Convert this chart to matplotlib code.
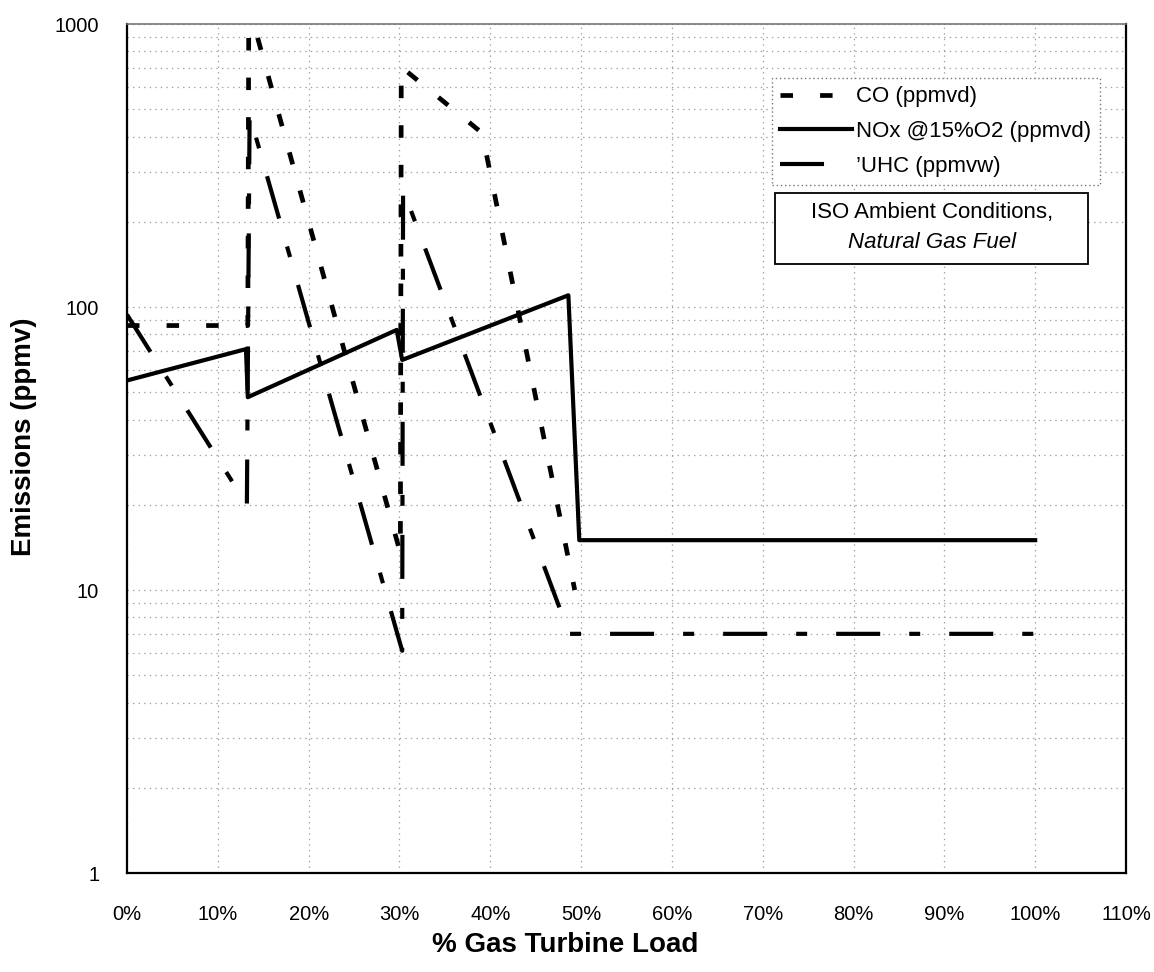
import matplotlib
matplotlib.use("Agg")
import matplotlib.pyplot as plt
from matplotlib.patches import Rectangle
from matplotlib.ticker import FixedLocator, NullFormatter

plt.rcParams['font.family'] = ['Liberation Sans', 'DejaVu Sans']
plt.rcParams['lines.scale_dashes'] = False

# ---- data ----
co_load = [0, 13.3, 13.4, 14.0, 30.1, 30.2, 39.1, 49.3]
co_ppm = [86, 86, 900, 990, 13.5, 705, 412, 10]

nox_load = [0, 13.1, 13.3, 29.7, 30.3, 48.6, 49.8, 100]
nox_ppm = [55, 71, 48, 83, 65, 110, 15, 15]

uhc_load = [0, 13.2, 13.5, 30.3, 30.4, 48.7, 100]
uhc_ppm = [94, 20, 477, 6.1, 260, 7.0, 7.0]

x_ticks = [0, 10, 20, 30, 40, 50, 60, 70, 80, 90, 100, 110]
x_tick_labels = [f"{v}%" for v in x_ticks]
y_ticks = [1, 10, 100, 1000]
y_tick_labels = ["1", "10", "100", "1000"]

series_labels = ["CO (ppmvd)", "NOx @15%O2 (ppmvd)", "\u2019UHC (ppmvw)"]
note_line1 = "ISO Ambient Conditions,"
note_line2 = "Natural Gas Fuel"
x_title = "% Gas Turbine Load"
y_title = "Emissions (ppmv)"

# ---- figure ----
fig = plt.figure(figsize=(11.54, 9.72), dpi=100)
ax = fig.add_axes([127/1154, 1-873/972, (1126-127)/1154, (873-24)/972])

ax.set_yscale('log')
ax.set_xlim(0, 110)
ax.set_ylim(1, 1000)

ax.set_xticks(x_ticks)
ax.set_xticklabels(x_tick_labels)
ax.yaxis.set_major_locator(FixedLocator(y_ticks))
ax.set_yticklabels(y_tick_labels)
minor = [m * 10**e for e in range(0, 3) for m in range(2, 10)]
ax.yaxis.set_minor_locator(FixedLocator(minor))
ax.yaxis.set_minor_formatter(NullFormatter())

ax.tick_params(axis='both', which='both', length=0, labelsize=14.5)
ax.tick_params(axis='x', pad=23)
ax.tick_params(axis='y', pad=20)

grid_kw = dict(color='#a0a0a0', linestyle=(0, (1, 3)), linewidth=0.9)
ax.grid(True, which='major', axis='x', **grid_kw)
ax.grid(True, which='both', axis='y', **grid_kw)
ax.set_axisbelow(True)

for s in ['left', 'bottom', 'right']:
    ax.spines[s].set_color('black')
    ax.spines[s].set_linewidth(1.6)
ax.spines['top'].set_color('#777777')
ax.spines['top'].set_linewidth(1.2)

# series
ax.plot(co_load, co_ppm, color='black', linewidth=3.4,
        dashes=(9, 19.5), label=series_labels[0], zorder=3)
ax.plot(nox_load, nox_ppm, color='black', linewidth=3.0,
        linestyle='-', label=series_labels[1], zorder=3)
ax.plot(uhc_load, uhc_ppm, color='black', linewidth=3.0,
        dashes=(31.7, 20.9, 7.9, 20.9), label=series_labels[2], zorder=3)

leg = ax.legend(loc='upper left', bbox_to_anchor=(0.6456, 0.9364),
                borderaxespad=0, frameon=True, fancybox=False,
                fontsize=16, handlelength=3.2, handletextpad=0.2,
                borderpad=0.38, labelspacing=0.62, framealpha=1)
fr = leg.get_frame()
fr.set_edgecolor('#777777')
fr.set_linestyle((0, (1, 2)))
fr.set_linewidth(1.0)
fr.set_facecolor('white')

# note box
ax.add_patch(Rectangle((0.6486, 0.7173), 0.962 - 0.6486, 0.801 - 0.7173,
                       transform=ax.transAxes, facecolor='white',
                       edgecolor='black', linewidth=1.3, zorder=5))
ax.text(0.8055, 0.7774, note_line1, transform=ax.transAxes, ha='center',
        va='center', fontsize=16, zorder=6)
ax.text(0.8055, 0.7432, note_line2, transform=ax.transAxes, ha='center',
        va='center', fontsize=16, style='italic', zorder=6)

fig.text(565/1154, 1 - 945/972, x_title, ha='center', va='center',
         fontsize=20, fontweight='bold')
fig.text(24/1154, 1 - 437/972, y_title, ha='center', va='center',
         fontsize=20, fontweight='bold', rotation=90)

fig.savefig('out.png', dpi=100)
